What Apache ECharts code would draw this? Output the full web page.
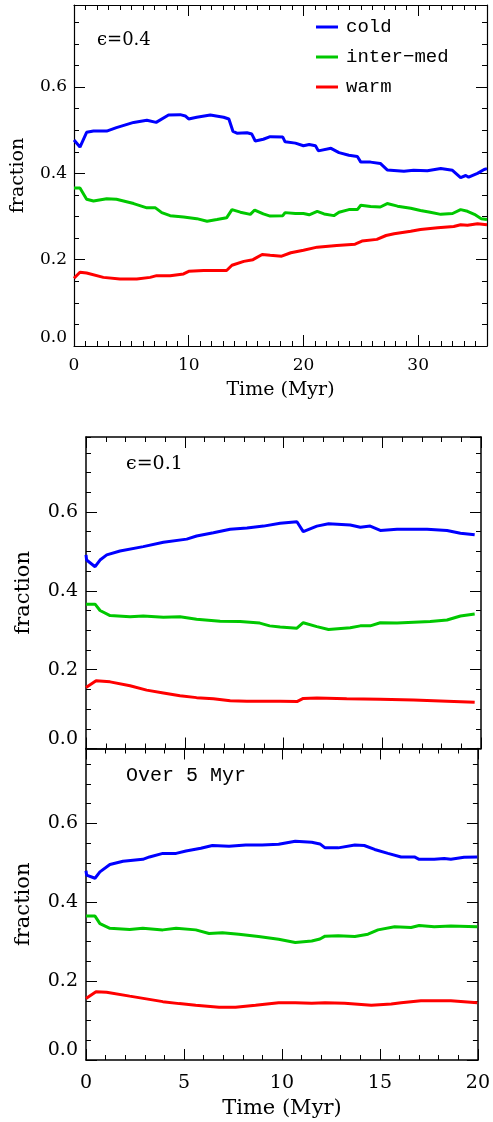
<!DOCTYPE html>
<html>
<head>
<meta charset="utf-8">
<script src="https://cdn.jsdelivr.net/npm/echarts@6/dist/echarts.min.js"></script>
<style>
  html, body { margin: 0; padding: 0; background: #fff; }
  #main { width: 493px; height: 1122px; }
</style>
</head>
<body>
<div id="main"></div>
<script>
// series names
const names = ['cold', 'inter\u2212med', 'warm'];
const colors = ['#0000ff', '#00c800', '#ff0000'];

// panel 1: epsilon = 0.4, [time (Myr), fraction]
const coldA = [[0,0.477],[0.52,0.461],[1.1,0.495],[1.7,0.498],[2.85,0.498],[3.7,0.506],[5.2,0.518],[6.35,0.523],[7.16,0.518],[8.24,0.535],[9.26,0.536],[9.7,0.533],[9.99,0.526],[10.7,0.530],[11.88,0.535],[13.04,0.530],[13.5,0.526],[13.86,0.497],[14.2,0.493],[15.08,0.494],[15.5,0.491],[15.8,0.475],[16.5,0.479],[17.1,0.485],[18.2,0.484],[18.4,0.473],[19.3,0.470],[20.0,0.464],[20.5,0.467],[21.05,0.464],[21.3,0.452],[22.4,0.458],[23.1,0.448],[23.96,0.442],[24.7,0.439],[25.0,0.426],[25.85,0.426],[26.7,0.423],[27.3,0.408],[28.76,0.405],[29.6,0.407],[30.8,0.406],[31.97,0.411],[32.99,0.407],[33.7,0.390],[34.15,0.395],[34.4,0.391],[35.17,0.400],[35.75,0.409],[36,0.411]];
const interA = [[0,0.366],[0.52,0.366],[1.1,0.340],[1.7,0.336],[2.85,0.341],[3.7,0.340],[5.2,0.330],[6.35,0.320],[7.1,0.320],[7.65,0.309],[8.38,0.302],[9.55,0.299],[10.7,0.295],[11.6,0.289],[12.46,0.293],[13.3,0.297],[13.77,0.316],[14.5,0.310],[15.37,0.305],[15.75,0.315],[16.5,0.306],[17.1,0.301],[18.2,0.302],[18.4,0.309],[19.3,0.307],[20.0,0.307],[20.5,0.304],[21.2,0.312],[21.8,0.306],[22.65,0.302],[23.1,0.310],[23.96,0.316],[24.7,0.316],[25.0,0.326],[25.85,0.323],[26.7,0.322],[27.3,0.330],[28.2,0.324],[29.35,0.319],[30.2,0.314],[31.05,0.310],[31.97,0.305],[33.0,0.307],[33.7,0.316],[34.3,0.312],[34.9,0.305],[35.5,0.295],[36,0.293]];
const warmA = [[0,0.157],[0.52,0.171],[1.1,0.169],[2.56,0.159],[4.0,0.155],[5.47,0.155],[6.64,0.159],[7.2,0.163],[8.38,0.163],[9.55,0.167],[10.0,0.173],[11.3,0.175],[13.3,0.175],[13.77,0.187],[14.8,0.196],[15.6,0.200],[16.4,0.212],[17.1,0.210],[18.1,0.208],[18.9,0.216],[20.0,0.222],[21.2,0.229],[22.9,0.233],[24.5,0.236],[25.1,0.243],[26.4,0.247],[27.2,0.256],[27.9,0.260],[29.35,0.266],[30.2,0.270],[31.7,0.274],[33.1,0.277],[33.7,0.281],[34.3,0.280],[35.17,0.283],[36,0.281]];

// panel 2: epsilon = 0.1
const coldB = [[0,0.491],[0.03,0.478],[0.46,0.461],[0.71,0.478],[1.05,0.491],[1.72,0.501],[2.9,0.512],[3.92,0.523],[5.1,0.531],[5.6,0.539],[6.45,0.547],[7.3,0.556],[8.15,0.559],[8.99,0.564],[9.83,0.571],[10.68,0.575],[11.0,0.550],[11.69,0.564],[12.28,0.570],[13.38,0.567],[13.89,0.561],[14.39,0.564],[14.9,0.553],[15.75,0.556],[16.59,0.556],[17.27,0.556],[18.28,0.553],[18.96,0.546],[19.68,0.542]];
const interB = [[0,0.366],[0.46,0.366],[0.71,0.350],[1.22,0.337],[2.23,0.334],[2.9,0.336],[3.92,0.333],[4.76,0.334],[5.6,0.328],[6.79,0.323],[7.8,0.322],[8.8,0.318],[9.3,0.311],[9.83,0.308],[10.68,0.305],[11.0,0.319],[11.69,0.309],[12.28,0.302],[13.38,0.306],[13.89,0.311],[14.39,0.311],[14.9,0.319],[15.75,0.318],[16.59,0.320],[17.43,0.322],[18.28,0.326],[18.96,0.336],[19.68,0.341]];
const warmB = [[0,0.155],[0.51,0.172],[1.22,0.169],[2.23,0.159],[3.07,0.148],[3.92,0.141],[4.76,0.134],[5.6,0.129],[6.45,0.126],[7.3,0.121],[8.15,0.120],[9.83,0.120],[10.68,0.119],[11.0,0.127],[11.69,0.128],[13.2,0.126],[14.9,0.125],[16.59,0.123],[18.28,0.120],[19.68,0.117]];

// panel 3: over 5 Myr
const coldC = [[0,0.480],[0.03,0.469],[0.46,0.461],[0.71,0.477],[1.22,0.496],[1.89,0.504],[2.9,0.509],[3.24,0.515],[3.92,0.524],[4.6,0.524],[5.1,0.530],[5.86,0.537],[6.45,0.544],[7.3,0.542],[8.15,0.545],[8.99,0.545],[9.83,0.547],[10.68,0.555],[11.52,0.552],[11.94,0.548],[12.2,0.538],[12.87,0.538],[13.72,0.545],[14.2,0.544],[14.73,0.534],[15.41,0.524],[16.08,0.515],[16.76,0.515],[17.0,0.509],[17.77,0.509],[18.28,0.511],[18.62,0.509],[19.29,0.514],[19.97,0.515]];
const interC = [[0,0.365],[0.46,0.365],[0.71,0.346],[1.22,0.334],[2.23,0.331],[2.9,0.334],[3.92,0.330],[4.6,0.334],[5.6,0.330],[6.28,0.321],[6.96,0.323],[7.8,0.319],[8.8,0.313],[9.83,0.306],[10.68,0.298],[11.52,0.302],[11.94,0.307],[12.2,0.314],[12.87,0.315],[13.72,0.313],[14.39,0.319],[14.9,0.330],[15.75,0.338],[16.59,0.336],[17.0,0.341],[17.77,0.338],[18.62,0.340],[19.97,0.338]];
const warmC = [[0,0.156],[0.51,0.173],[1.05,0.172],[2.23,0.162],[3.92,0.148],[4.76,0.143],[5.6,0.139],[6.79,0.134],[7.63,0.134],[8.65,0.139],[9.83,0.145],[10.68,0.145],[11.52,0.144],[12.2,0.145],[13.2,0.144],[14.56,0.139],[15.58,0.142],[16.08,0.145],[17.09,0.150],[18.62,0.150],[19.97,0.145]];

const yTicks = [0, 0.2, 0.4, 0.6];

const serif = 'DejaVu Serif';
const mono = 'Liberation Mono';

// build the four framing axes (major + minor on each side) for one grid
function axesFor(g, o) {
  const line = { show: true, onZero: false, lineStyle: { color: '#000', width: o.lw } };
  const noLine = { show: false, onZero: false };
  const tick = (len) => ({ show: true, inside: true, length: len, lineStyle: { color: '#000', width: 1 } });
  const lab = { show: false };
  const xs = [
    { gridIndex: g, type: 'value', position: 'bottom', min: 0, max: o.xmax, interval: o.xint,
      axisLine: line, axisTick: tick(11), splitLine: { show: false },
      axisLabel: o.xlabels ? { show: true, margin: o.xmargin, showMaxLabel: o.xmaxLabel, color: '#000', fontFamily: serif, fontSize: o.fs } : lab,
      name: o.xlabels ? 'Time (Myr)' : '', nameLocation: 'middle', nameGap: o.xnameGap,
      nameTextStyle: { color: '#000', fontFamily: serif, fontSize: o.nfs } },
    { gridIndex: g, type: 'value', position: 'bottom', min: 0, max: o.xmax, interval: 1,
      axisLine: noLine, axisTick: tick(5), axisLabel: lab, splitLine: { show: false } },
    { gridIndex: g, type: 'value', position: 'top', min: 0, max: o.xmax, interval: o.xint,
      axisLine: line, axisTick: tick(11), axisLabel: lab, splitLine: { show: false } },
    { gridIndex: g, type: 'value', position: 'top', min: 0, max: o.xmax, interval: 1,
      axisLine: noLine, axisTick: tick(5), axisLabel: lab, splitLine: { show: false } }
  ];
  const ys = [
    { gridIndex: g, type: 'value', position: 'left', min: 0, max: 0.79, interval: 0.2,
      axisLine: line, axisTick: tick(11), splitLine: { show: false },
      axisLabel: { show: true, margin: o.ymargin, showMaxLabel: false, verticalAlignMinLabel: 'bottom',
        color: '#000', fontFamily: serif, fontSize: o.fs,
        formatter: (v) => yTicks.indexOf(v) >= 0 ? v.toFixed(1) : '' },
      name: 'fraction', nameLocation: 'middle', nameGap: o.ynameGap,
      nameTextStyle: { color: '#000', fontFamily: serif, fontSize: o.nfs } },
    { gridIndex: g, type: 'value', position: 'left', min: 0, max: 0.79, interval: 0.05,
      axisLine: noLine, axisTick: tick(5), axisLabel: lab, splitLine: { show: false } },
    { gridIndex: g, type: 'value', position: 'right', min: 0, max: 0.79, interval: 0.2,
      axisLine: line, axisTick: tick(11), axisLabel: lab, splitLine: { show: false } },
    { gridIndex: g, type: 'value', position: 'right', min: 0, max: 0.79, interval: 0.05,
      axisLine: noLine, axisTick: tick(5), axisLabel: lab, splitLine: { show: false } }
  ];
  return { xs, ys };
}

const pA = axesFor(0, { xmax: 36, xint: 10, xlabels: true, xmaxLabel: false, xmargin: 11, xnameGap: 35, ymargin: 7, ynameGap: 46, fs: 17, nfs: 19, lw: 1.2 });
const pB = axesFor(1, { xmax: 20, xint: 5, xlabels: false, xmaxLabel: true, xmargin: 14, xnameGap: 38, ymargin: 8, ynameGap: 52, fs: 19, nfs: 21, lw: 1.5 });
const pC = axesFor(2, { xmax: 20, xint: 5, xlabels: true, xmaxLabel: true, xmargin: 14, xnameGap: 38, ymargin: 8, ynameGap: 52, fs: 19, nfs: 21, lw: 1.5 });

const panels = [[coldA, interA, warmA], [coldB, interB, warmB], [coldC, interC, warmC]];
const series = [];
panels.forEach(function (sets, p) {
  sets.forEach(function (d, i) {
    series.push({
      name: names[i], type: 'line', data: d,
      xAxisIndex: p * 4, yAxisIndex: p * 4,
      showSymbol: false, symbol: 'none', smooth: false,
      lineStyle: { color: colors[i], width: 3 },
      itemStyle: { color: colors[i] }
    });
  });
});

const myChart = echarts.init(document.getElementById('main'));
myChart.setOption({
  animation: false,
  backgroundColor: '#fff',
  grid: [
    { left: 74, top: 5, width: 413, height: 341 },
    { left: 86, top: 437, width: 395, height: 311.5 },
    { left: 86, top: 748.5, width: 395, height: 311.5 }
  ],
  xAxis: pA.xs.concat(pB.xs, pC.xs),
  yAxis: pA.ys.concat(pB.ys, pC.ys),
  title: [
    { text: '\u03f5=0.4', left: 97, top: 31, padding: 0, textStyle: { fontFamily: serif, fontSize: 18, fontWeight: 'normal', color: '#000' } },
    { text: '\u03f5=0.1', left: 126, top: 455, padding: 0, textStyle: { fontFamily: serif, fontSize: 19, fontWeight: 'normal', color: '#000' } },
    { text: 'Over 5 Myr', left: 126, top: 766, padding: 0, textStyle: { fontFamily: mono, fontSize: 20, fontWeight: 'normal', color: '#000' } }
  ],
  legend: {
    orient: 'vertical', left: 316, top: 17, padding: 0,
    icon: 'rect', itemWidth: 22, itemHeight: 3, itemGap: 10,
    data: names,
    textStyle: { fontFamily: mono, fontSize: 19, lineHeight: 20, color: '#000', padding: [0, 0, 0, 3] }
  },
  series: series
});
</script>
</body>
</html>
